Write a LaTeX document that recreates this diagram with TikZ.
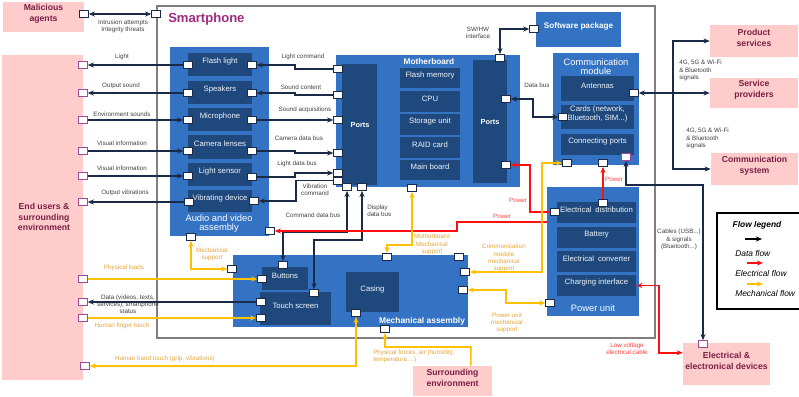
\documentclass[tikz,border=0pt]{standalone}
\usepackage{fontspec}
\setmainfont{Liberation Sans}
\usetikzlibrary{arrows.meta,fit,calc}

\definecolor{cblue}{HTML}{3473C3}
\definecolor{cdark}{HTML}{1F497D}
\definecolor{cline}{HTML}{1B2A48}
\definecolor{cyel}{HTML}{FFC000}
\definecolor{cred}{HTML}{FF1010}
\definecolor{cpink}{HTML}{FFCCCC}
\definecolor{cmaroon}{HTML}{7A1E44}
\definecolor{cmag}{HTML}{9E2A80}
\definecolor{cpurp}{HTML}{A04A96}
\definecolor{cgray}{HTML}{7F7F7F}
\definecolor{ctxt}{HTML}{404040}
\definecolor{cyeltxt}{HTML}{E3A43A}
\definecolor{credtxt}{HTML}{FF4040}

\newcommand{\fsz}[2]{\fontsize{#1}{#2}\selectfont}

\begin{document}
\begin{tikzpicture}[x=0.75pt,y=-0.75pt,
  container/.style={fill=cblue, draw=none, inner sep=0pt},
  inner/.style={fill=cdark, draw=none, inner sep=0pt, text=white!92!cblue, font=\fsz{5.8}{6.6}, align=center},
  ext/.style={fill=cpink, draw=none, inner sep=0pt, text=cmaroon, font=\bfseries\fsz{6.5}{7.8}, align=center},
  port/.style={draw=cline, fill=white, line width=0.6pt, minimum width=6.5pt, minimum height=5.2pt, inner sep=0pt},
  pport/.style={port, draw=cpurp},
  flow/.style={line width=1.15pt, >={Stealth[length=4.6pt,width=3.8pt]}},
  dat/.style={flow, draw=cline},
  ele/.style={flow, draw=cred},
  mec/.style={flow, draw=cyel},
  lbl/.style={font=\fsz{4.7}{5.4}, text=ctxt, align=center, inner sep=0pt},
  ylbl/.style={lbl, text=cyeltxt},
  rlbl/.style={lbl, text=credtxt},
  ttl/.style={text=white, font=\fsz{7}{7}, align=center, inner sep=0pt},
  legtxt/.style={font=\itshape\fsz{6.3}{7}, anchor=west, inner sep=0pt}
]
\useasboundingbox (0,0) rectangle (799,396);

% ---------- external actors ----------
\node[ext, fit={(3,2)(84,32)}] (mal) {Malicious\\agents};
\node[ext, fit={(2,55)(83,380)}] (eu) {};
\node[text=cmaroon, font=\bfseries\fsz{6.5}{7.8}, align=center] (eutxt) at (44,217) {End users \&\\surrounding\\environment};
\node[ext, fit={(710,25)(798,57)}] (prod) {Product\\services};
\node[ext, fit={(710,78)(798,108)}] (svc) {Service\\providers};
\node[ext, fit={(711,153)(798,185)}] (comsys) {Communication\\system};
\node[ext, fit={(683,343)(770,385)}] (elec) {Electrical \&\\electronical devices};
\node[ext, fit={(413,366)(492,396)}] (surr) {Surrounding\\environment};

% ---------- smartphone frame ----------
\node[draw=cgray, line width=2.2pt, fit={(157,6)(655,338)}, inner sep=0pt] (sp) {};
\node[anchor=west, text=cmag, font=\bfseries\fsz{9.8}{11}, inner sep=0pt] (sptitle) at (168,19) {Smartphone};

% ---------- audio and video assembly ----------
\node[container, fit={(170,47)(269,236)}] (av) {};
\node[ttl] (avtitle) at (219,223.5) {Audio and video\\assembly};
\node[inner, fit={(188,53)(252,76)}] (flash) {Flash light};
\node[inner, fit={(188,81)(252,104)}] (spk) {Speakers};
\node[inner, fit={(188,108)(252,131)}] (mic) {Microphone};
\node[inner, fit={(188,135)(252,159)}] (cam) {Camera lenses};
\node[inner, fit={(188,163)(252,186)}] (lsen) {Light sensor};
\node[inner, fit={(188,190)(252,212)}] (vib) {Vibrating device};

% ---------- motherboard ----------
\node[container, fit={(336,55)(520,187)}] (mb) {};
\node[text=white, font=\bfseries\fsz{6.2}{7}, inner sep=0pt] (mbtitle) at (429,62) {Motherboard};
\node[inner, fit={(342,64)(377,185)}] (mbpl) {};
\node[text=white, font=\bfseries\fsz{5.5}{6}, inner sep=0pt] at (360,125) {Ports};
\node[inner, fit={(473,60)(507,183)}] (mbpr) {};
\node[text=white, font=\bfseries\fsz{5.5}{6}, inner sep=0pt] at (490,122) {Ports};
\node[inner, fit={(400,68)(460,88)}] (fmem) {Flash memory};
\node[inner, fit={(400,91)(460,112)}] (cpu) {CPU};
\node[inner, fit={(400,114)(460,135)}] (stor) {Storage unit};
\node[inner, fit={(400,137)(460,158)}] (raid) {RAID card};
\node[inner, fit={(400,160)(460,180)}] (mainb) {Main board};

% ---------- software package ----------
\node[container, fit={(536,12)(621,47)}, text=white, font=\bfseries\fsz{6.1}{7}] (sw) {Software package};

% ---------- communication module ----------
\node[container, fit={(553,53)(639,165)}] (com) {};
\node[ttl] (comtitle) at (596,66.5) {Communication\\module};
\node[inner, fit={(561,76)(634,101)}] (ant) {Antennas};
\node[inner, fit={(561,105)(634,129)}] (cards) {Cards (network,\\Bluetooth, SIM...)};
\node[inner, fit={(561,134)(634,155)}] (cports) {Connecting ports};

% ---------- power unit ----------
\node[container, fit={(547,187)(639,316)}] (pu) {};
\node[ttl] (putitle) at (593,308) {Power unit};
\node[inner, fit={(557,202)(636,223)}] (edist) {Electrical\enspace distribution};
\node[inner, fit={(557,227)(636,248)}] (batt) {Battery};
\node[inner, fit={(557,251)(636,272)}] (conv) {Electrical\enspace converter};
\node[inner, fit={(557,275)(636,296)}] (charge) {Charging interface};

% ---------- mechanical assembly ----------
\node[container, fit={(233,255)(468,327)}] (ma) {};
\node[text=white, font=\bfseries\fsz{6.3}{7}, inner sep=0pt] (matitle) at (422,321) {Mechanical assembly};
\node[inner, fit={(262,267)(308,290)}] (btn) {Buttons};
\node[inner, fit={(260,292)(331,325)}] (ts) {Touch screen};
\node[inner, fit={(346,272)(399,312)}] (cas) {Casing};

% ---------- ports ----------
\foreach \n/\y in {pe1/65,pe2/93,pe3/120,pe4/151,pe5/176,pe6/202,pe7/279,pe8/302,pe9/318}
  \node[pport] (\n) at (83,\y) {};
\node[pport] (pe10) at (85,366) {};
\node[port] (pmal) at (84,14) {};
\node[port] (psp) at (156,14) {};

\node[port] (pflL) at (188,65) {};   \node[port] (pflR) at (252,65) {};
\node[port] (pspL) at (188,93) {};   \node[port] (pspR) at (252,93) {};
\node[port] (pmiL) at (188,120) {};  \node[port] (pmiR) at (252,120) {};
\node[port] (pcaL) at (188,151) {};  \node[port] (pcaR) at (252,151) {};
\node[port] (plsL) at (188,176) {};  \node[port] (plsR) at (252,177) {};
\node[port] (pviL) at (189,202) {};  \node[port] (pviR) at (254,201) {};
\node[port] (pavM) at (191,237) {};  \node[port] (pavP) at (270,231) {};

\node[port] (pmb1) at (338,69) {};
\node[port] (pmb2) at (338,95) {};
\node[port] (pmb3) at (338,120) {};
\node[port] (pmb4) at (338,153) {};
\node[port] (pmb5) at (338,173) {};
\node[port] (pmb6) at (338,180.5) {};
\node[port] (pmb7) at (347,187) {};
\node[port] (pmb8) at (362,187) {};
\node[port] (pmbM) at (412,188) {};
\node[port] (pmbT) at (500,58) {};
\node[port] (pmbR) at (506,99) {};
\node[port] (pmbP) at (506,165) {};

\node[port] (psw) at (534,29) {};
\node[port] (pant) at (634,93) {};
\node[port] (pcards) at (563,117) {};
\node[port] (pcomM) at (567,163) {};
\node[port] (pcomP) at (603,163) {};
\node[pport] (pcp) at (626,157) {};

\node[port] (pedL) at (555,212) {};
\node[port] (pedT) at (603,203) {};
\node[port] (ppuM) at (550,303) {};

\node[port] (pmaL) at (232,269) {};
\node[port] (pmaT1) at (387,257) {};
\node[port] (pmaT2) at (459,257) {};
\node[port] (pmaR1) at (465,272) {};
\node[port] (pmaR2) at (463,290) {};
\node[port] (pmaB) at (385,329) {};
\node[port] (pbtT) at (283,265) {};
\node[port] (pbtL) at (262,279) {};
\node[port] (ptsT) at (314,293) {};
\node[port] (ptsL1) at (261,302) {};
\node[port] (ptsL2) at (261,318) {};
\node[port] (pcasB) at (356,313) {};

\node[pport] (pelec) at (703,344) {};

% ---------- data flows ----------
\draw[dat,<->] (pmal) -- (psp);
\draw[dat,->] (pflL) -- (pe1);
\draw[dat,->] (pspL) -- (pe2);
\draw[dat,->] (pe3) -- (pmiL);
\draw[dat,->] (pe4) -- (pcaL);
\draw[dat,->] (pe5) -- (plsL);
\draw[dat,->] (pviL) -- (pe6);

\draw[dat,->] (pmb1) -- (295,69) |- (pflR);
\draw[dat,->] (pmb2) -- (295,95) |- (pspR);
\draw[dat,->] (pmiR) -- (pmb3);
\draw[dat,->] (pcaR) -- (295,151) |- (pmb4);
\draw[dat,->] (plsR) -- (295,177) |- (pmb5);
\draw[dat,->] (pmb6) -- (296,180.5) |- (pviR);

\draw[dat,<->] (pmb7) -- (347,232) -| (pbtT);
\draw[dat,<->] (pmb8) -- (362,240) -| (ptsT);
\draw[dat,<->] (pmbT) |- (psw);
\draw[dat,<->] (pmbR) -- (533,99) |- (pcards);
\draw[dat,<->] (pant) -- (svc.west |- pant);
\coordinate (jA) at (673,93);
\draw[dat,->] (jA) |- (prod.west);
\draw[dat,->] (jA) |- (comsys.west);
\draw[dat,<->] (pcp) -- (626,185) -| (pelec);
\draw[dat,->] (ptsL1) -- (pe8);

% ---------- electrical flows ----------
\draw[ele,->] (pedL) -- (530,212) |- (pmbP);
\coordinate (puA) at (547,222);
\draw[ele,->] (puA) -- (457,222) |- (pavP);
\draw[ele,->] (pedT) -- (pcomP);
\path (elec.north west) ++(0,10) coordinate (eA);
\draw[ele,<->] (charge.east) -- (659,285.5) |- (eA);

% ---------- mechanical flows ----------
\draw[mec,<->] (pavM) |- (pmaL);
\draw[mec,<->] (pmbM) -- (412,245) -| (pmaT1);
\draw[mec,<->] (pcomM) -- (542,163) |- (pmaR1);
\draw[mec,<->] (pmaR2) -- (506,290) |- (ppuM);
\path (surr.north west) ++(58,0) coordinate (sA);
\draw[mec,->] (sA) -- (471,347) -| (pmaB);
\draw[mec,<->] (pcasB) |- (pe10);
\draw[mec,->] (pe7) -- (pbtL);
\draw[mec,->] (pe9) -- (ptsL2);

% ---------- flow labels ----------
\node[lbl] at (123,26) {Intrusion attempts\\Integrity threats};
\node[lbl] at (122,57) {Light};
\node[lbl] at (121,86) {Output sound};
\node[lbl] at (122,114) {Environment sounds};
\node[lbl] at (122,143) {Visual information};
\node[lbl] at (122,168) {Visual information};
\node[lbl] at (125,193) {Output vibrations};
\node[lbl] at (303,57) {Light command};
\node[lbl] at (301,87) {Sound content};
\node[lbl] at (305,110) {Sound acquisitions};
\node[lbl] at (299,138) {Camera data bus};
\node[lbl] at (297,164) {Light data bus};
\node[lbl] at (315,190) {Vibration\\command};
\node[lbl] at (313,215) {Command data bus};
\node[lbl, anchor=west, align=left] at (367,210.5) {Display\\data bus};
\node[lbl] at (478,33) {SW/HW\\interface};
\node[lbl] at (537,85) {Data bus};
\node[lbl, anchor=west, align=left] at (679,70.5) {4G, 5G \& Wi-Fi\\\& Bluetooth\\signals};
\node[lbl, anchor=west, align=left] at (686,138.5) {4G, 5G \& Wi-Fi\\\& Bluetooth\\signals};
\node[lbl] at (679,239.5) {Cables (USB...)\\\& signals\\(Bluetooth...)};
\node[lbl] at (128,304.5) {Data (videos, texts,\\services), smartphone\\status};

\node[rlbl] at (614,179) {Power};
\node[rlbl] at (518,200) {Power};
\node[rlbl] at (502,216) {Power};
\node[rlbl] at (627,349) {Low voltage\\electrical cable};

\node[ylbl] at (212,254.5) {Mechanical\\support};
\node[ylbl] at (124,268) {Physical loads};
\node[ylbl] at (122,326) {Human finger touch};
\node[ylbl] at (165,359) {Human hand touch (grip, vibrations)};
\node[ylbl] at (432,244.5) {Motherboard\\Mechanical\\support};
\node[ylbl] at (504,258) {Communication\\module\\mechanical\\support};
\node[ylbl] at (507,323) {Power unit\\mechanical\\support};
\node[ylbl, anchor=west, align=left] at (373,356) {Physical forces, air (humidity,\\temperature,...)};

% ---------- legend ----------
\node[draw=black, line width=1pt, fit={(717,213)(802,309)}, inner sep=0pt] (leg) {};
\node[font=\bfseries\itshape\fsz{6.3}{7}, inner sep=0pt] (legT) at (757,225) {Flow legend};
\coordinate (l1a) at (745,239); \coordinate (l1b) at (762,239);
\coordinate (l2a) at (747,263); \coordinate (l2b) at (763,263);
\coordinate (l3a) at (747,284); \coordinate (l3b) at (763,284);
\draw[flow, draw=black, ->] (l1a) -- (l1b);
\draw[ele, ->] (l2a) -- (l2b);
\draw[mec, ->] (l3a) -- (l3b);
\node[legtxt] at (735,253) {Data flow};
\node[legtxt] at (735,273) {Electrical flow};
\node[legtxt] at (735,293) {Mechanical flow};
\end{tikzpicture}
\end{document}
